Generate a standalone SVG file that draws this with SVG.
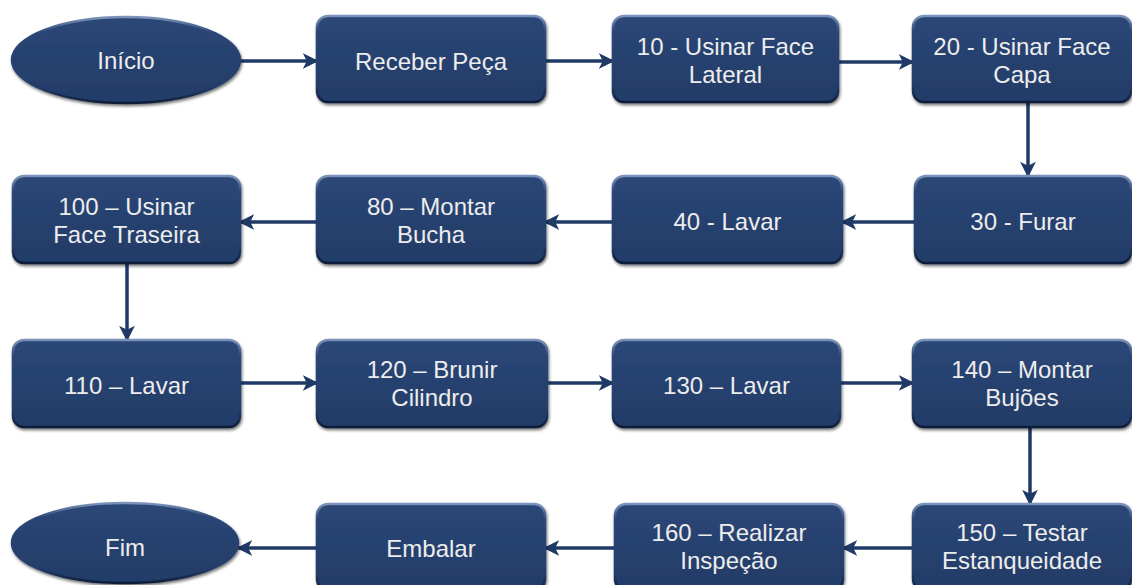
<svg xmlns="http://www.w3.org/2000/svg" width="1132" height="585" viewBox="0 0 1132 585">
  <defs>
    <!-- bevelled rim: light along the top, dark along the bottom -->
    <linearGradient id="rim" x1="0" y1="0" x2="0" y2="1">
      <stop offset="0" stop-color="#7C94BB"/>
      <stop offset="0.18" stop-color="#2A4675"/>
      <stop offset="0.8" stop-color="#243E6B"/>
      <stop offset="1" stop-color="#0F1E3A"/>
    </linearGradient>
    <linearGradient id="face" x1="0" y1="0" x2="0" y2="1">
      <stop offset="0" stop-color="#2B4777"/>
      <stop offset="0.5" stop-color="#27416F"/>
      <stop offset="1" stop-color="#233C68"/>
    </linearGradient>
    <filter id="shadow" x="-10%" y="-10%" width="120%" height="130%">
      <feDropShadow dx="1" dy="2" stdDeviation="1.6" flood-color="#000" flood-opacity="0.55"/>
    </filter>
    <marker id="head" viewBox="0 0 10 10" refX="9" refY="5" markerWidth="4.5" markerHeight="4.5" orient="auto" markerUnits="strokeWidth">
      <path d="M0,0 L10,5 L0,10 L2.5,5 Z" fill="#1F3A66"/>
    </marker>
  </defs>
  <style>
    .box { fill: url(#face); stroke: url(#rim); stroke-width: 2.5; filter: url(#shadow); }
    .lbl { font-family: "Liberation Sans", Arial, sans-serif; font-size: 24px; fill: #EDEDED; text-anchor: middle; }
    .link { fill: none; stroke: #1F3A66; stroke-width: 3.5; marker-end: url(#head); }
  </style>

  <rect width="1132" height="585" fill="#FFFFFF"/>

  <!-- connectors -->
  <g id="connectors">
    <path class="link" d="M240,61 H317"/>
    <path class="link" d="M545,61 H613"/>
    <path class="link" d="M838,62 H913"/>
    <path class="link" d="M1028,102 V176"/>
    <path class="link" d="M915,222 H842"/>
    <path class="link" d="M613,222 H545"/>
    <path class="link" d="M317,222 H240"/>
    <path class="link" d="M127,263 V340"/>
    <path class="link" d="M240,383 H317"/>
    <path class="link" d="M547,383 H613"/>
    <path class="link" d="M840,383 H913"/>
    <path class="link" d="M1030,427 V504"/>
    <path class="link" d="M913,548 H843"/>
    <path class="link" d="M615,548 H545"/>
    <path class="link" d="M317,548 H238"/>
  </g>

  <!-- row 1 -->
  <g id="inicio">
    <ellipse class="box" cx="126" cy="60" rx="114" ry="43"/>
    <text class="lbl" x="126" y="69">Início</text>
  </g>
  <g id="receber-peca">
    <rect class="box" x="317" y="16" width="228" height="86" rx="11"/>
    <text class="lbl" x="431" y="70">Receber Peça</text>
  </g>
  <g id="op10">
    <rect class="box" x="613" y="16" width="225" height="86" rx="11"/>
    <text class="lbl" x="725.5" y="55">10 - Usinar Face</text>
    <text class="lbl" x="725.5" y="83">Lateral</text>
  </g>
  <g id="op20">
    <rect class="box" x="913" y="16" width="218" height="86" rx="11"/>
    <text class="lbl" x="1022" y="55">20 - Usinar Face</text>
    <text class="lbl" x="1022" y="83">Capa</text>
  </g>

  <!-- row 2 -->
  <g id="op100">
    <rect class="box" x="13" y="176" width="227" height="87" rx="11"/>
    <text class="lbl" x="126.5" y="215">100 – Usinar</text>
    <text class="lbl" x="126.5" y="243">Face Traseira</text>
  </g>
  <g id="op80">
    <rect class="box" x="317" y="176" width="228" height="87" rx="11"/>
    <text class="lbl" x="431" y="215">80 – Montar</text>
    <text class="lbl" x="431" y="243">Bucha</text>
  </g>
  <g id="op40">
    <rect class="box" x="613" y="176" width="229" height="87" rx="11"/>
    <text class="lbl" x="727.5" y="230">40 - Lavar</text>
  </g>
  <g id="op30">
    <rect class="box" x="915" y="176" width="216" height="87" rx="11"/>
    <text class="lbl" x="1023" y="230">30 - Furar</text>
  </g>

  <!-- row 3 -->
  <g id="op110">
    <rect class="box" x="13" y="340" width="227" height="87" rx="11"/>
    <text class="lbl" x="126.5" y="394">110 – Lavar</text>
  </g>
  <g id="op120">
    <rect class="box" x="317" y="340" width="230" height="87" rx="11"/>
    <text class="lbl" x="432" y="378">120 – Brunir</text>
    <text class="lbl" x="432" y="406">Cilindro</text>
  </g>
  <g id="op130">
    <rect class="box" x="613" y="340" width="227" height="87" rx="11"/>
    <text class="lbl" x="726.5" y="394">130 – Lavar</text>
  </g>
  <g id="op140">
    <rect class="box" x="913" y="340" width="218" height="87" rx="11"/>
    <text class="lbl" x="1022" y="378">140 – Montar</text>
    <text class="lbl" x="1022" y="406">Bujões</text>
  </g>

  <!-- row 4 -->
  <g id="fim">
    <ellipse class="box" cx="125" cy="543" rx="113" ry="40"/>
    <text class="lbl" x="125" y="556">Fim</text>
  </g>
  <g id="embalar">
    <rect class="box" x="317" y="504" width="228" height="86" rx="11"/>
    <text class="lbl" x="431" y="557">Embalar</text>
  </g>
  <g id="op160">
    <rect class="box" x="615" y="504" width="228" height="86" rx="11"/>
    <text class="lbl" x="729" y="541">160 – Realizar</text>
    <text class="lbl" x="729" y="569">Inspeção</text>
  </g>
  <g id="op150">
    <rect class="box" x="913" y="504" width="218" height="86" rx="11"/>
    <text class="lbl" x="1022" y="541">150 – Testar</text>
    <text class="lbl" x="1022" y="569">Estanqueidade</text>
  </g>
</svg>
